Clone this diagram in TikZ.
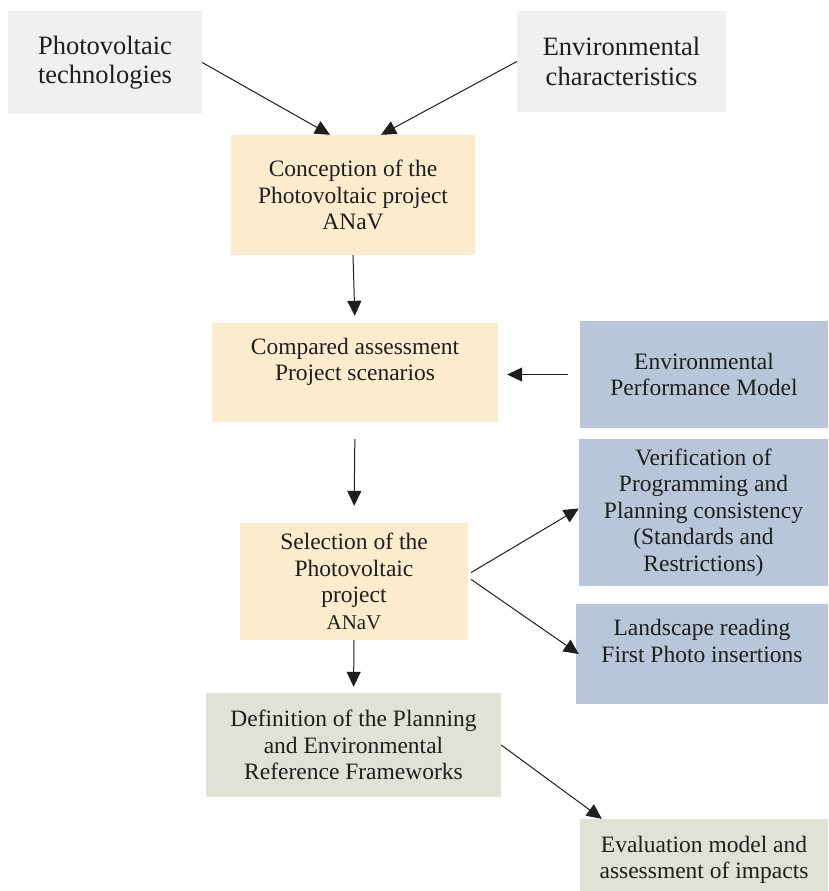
\documentclass[tikz,border=0pt]{standalone}
\usepackage{fontspec}
\setmainfont{Liberation Serif}
\usetikzlibrary{
  arrows.meta,
  positioning
}
\definecolor{boxgray}{RGB}{242,240,239}
\definecolor{peach}{RGB}{253,235,206}
\definecolor{steel}{RGB}{185,198,218}
\definecolor{sage}{RGB}{224,226,214}
\definecolor{ink}{RGB}{30,30,30}

\tikzset{
  box/.style={rectangle, inner sep=0pt, align=center, text=ink,
    font=\fontsize{23.5}{26.5}\selectfont},
  inputbox/.style={box, fill=boxgray, font=\fontsize{26.5}{29.5}\selectfont},
  projbox/.style={box, fill=peach},
  modelbox/.style={box, fill=steel},
  framebox/.style={box, fill=sage},
  flow/.style={draw=ink, line width=1pt, -{Triangle[length=15pt,width=14pt]}}
}

\begin{document}
\begin{tikzpicture}[x=1pt, y=-1pt]
  \fill[white] (0,0) rectangle (828,891);
  \useasboundingbox (0,0) rectangle (828,891);

  % inputs
  \node[inputbox, minimum width=194pt, minimum height=103pt] (pvtech) at (105,62.5) {Photovoltaic\\technologies};
  \node[inputbox, minimum width=209pt, minimum height=101pt] (envchar) at (621.5,61.5) {Environmental\\characteristics};

  % project chain
  \node[projbox, minimum width=244pt, minimum height=120pt] (concept) at (353,195) {Conception of the\\Photovoltaic project\\ANaV};
  \node[projbox, minimum width=286pt, minimum height=99pt] (compare) at (355,372.5) {Compared assessment\\Project scenarios\\ \mbox{}};
  \node[projbox, minimum width=228pt, minimum height=117pt] (select) at (354,581.5) {Selection of the\\Photovoltaic\\project\\{\fontsize{21}{24}\selectfont ANaV}};

  % models on the right
  \node[modelbox, minimum width=248pt, minimum height=107pt] (perf) at (704,374.5) {Environmental\\Performance Model};
  \node[modelbox, minimum width=249pt, minimum height=147pt] (verif) at (703.5,512.5) {Verification of\\Programming and\\Planning consistency\\(Standards and\\Restrictions)};
  \node[modelbox, minimum width=252pt, minimum height=100pt] (landsc) at (702,654) {Landscape reading\\First Photo insertions\\ \mbox{}};

  % frameworks and evaluation
  \node[framebox, minimum width=295pt, minimum height=104pt] (frames) at (353.5,745) {Definition of the Planning\\and Environmental\\Reference Frameworks};
  \node[framebox, minimum width=248pt, minimum height=82pt] (evalm) at (704,860) {Evaluation model and\\assessment of impacts};

  % connectors
  \draw[flow] (pvtech.east) -- ([xshift=-23pt]concept.north);
  \draw[flow] (envchar.west) -- ([xshift=28pt]concept.north);
  \draw[flow, shorten >=7pt] (concept.south) -- (compare.north);
  \draw[flow, shorten <=12pt, shorten >=9pt] (perf.west) -- (perf.west -| compare.east);
  \draw[flow, shorten <=17pt, shorten >=17pt] (compare.south) -- (select.north);
  \draw[flow] ([xshift=3pt, yshift=9pt]select.east) -- ([yshift=4pt]verif.west);
  \draw[flow] ([xshift=3pt, yshift=2pt]select.east) -- ([xshift=3pt]landsc.west);
  \draw[flow, shorten >=6pt] (select.south) -- (frames.north);
  \draw[flow] (frames.east) -- ([xshift=22pt]evalm.north west);
\end{tikzpicture}
\end{document}
